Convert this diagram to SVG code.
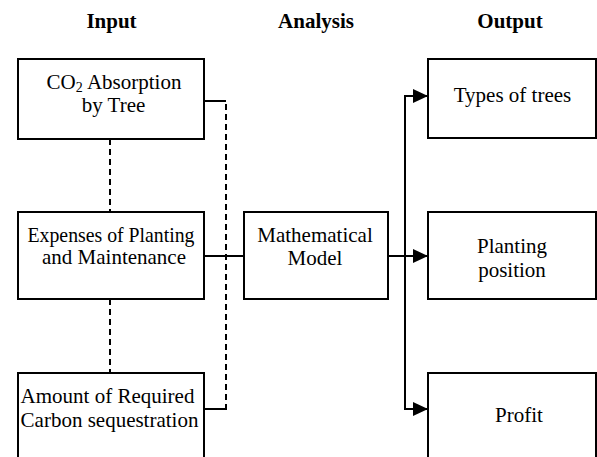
<svg xmlns="http://www.w3.org/2000/svg" width="597" height="457" viewBox="0 0 597 457">
<style>
.box{fill:#fff;stroke:#000;stroke-width:2}
.t{font-family:"Liberation Serif",serif;font-size:21px;text-anchor:middle;fill:#000}
.h{font-family:"Liberation Serif",serif;font-size:21px;font-weight:bold;text-anchor:middle;fill:#000}
.ln{fill:none;stroke:#000;stroke-width:2}
.d{fill:none;stroke:#000;stroke-width:2;stroke-dasharray:6,4}
</style>
<defs>
<marker id="arr" markerUnits="userSpaceOnUse" markerWidth="16" markerHeight="16" viewBox="0 0 16 16" refX="15" refY="8" orient="auto">
<path d="M0,1 L15,8 L0,15 Z" fill="#000"/>
</marker>
</defs>
<g id="headers">
<text class="h" font-family="Liberation Serif" x="111.5" y="28">Input</text>
<text class="h" font-family="Liberation Serif" x="316" y="28">Analysis</text>
<text class="h" font-family="Liberation Serif" x="510" y="28">Output</text>
</g>
<g id="connectors">
<line class="d" x1="110" y1="139" x2="110" y2="212"/>
<line class="d" x1="110" y1="299" x2="110" y2="373"/>
<polyline class="ln" points="204,101 226,101"/>
<line class="d" x1="226" y1="104" x2="226" y2="407"/>
<polyline class="ln" points="226,405 226,409 204,409"/>
<line class="ln" x1="204" y1="256" x2="244" y2="256"/>
<line class="ln" x1="388" y1="256" x2="428" y2="256" marker-end="url(#arr)"/>
<polyline class="ln" points="428,96 405,96 405,409 428,409"/>
<line class="ln" x1="405" y1="96" x2="428" y2="96" marker-end="url(#arr)"/>
<line class="ln" x1="405" y1="409" x2="428" y2="409" marker-end="url(#arr)"/>
</g>
<g id="co2">
<rect class="box" x="18" y="59" width="186" height="80"/>
<text class="t" font-family="Liberation Serif" x="114" y="89">CO<tspan font-size="14" dy="3">2</tspan><tspan dy="-3"> Absorption</tspan></text>
<text class="t" font-family="Liberation Serif" x="113.5" y="112">by Tree</text>
</g>
<g id="expenses">
<rect class="box" x="18" y="212" width="186" height="87"/>
<text class="t" font-family="Liberation Serif" x="111" y="242" textLength="167" lengthAdjust="spacingAndGlyphs">Expenses of Planting</text>
<text class="t" font-family="Liberation Serif" x="114" y="264">and Maintenance</text>
</g>
<g id="amount">
<rect class="box" x="18" y="373" width="186" height="100"/>
<text class="t" font-family="Liberation Serif" x="107.5" y="403">Amount of Required</text>
<text class="t" font-family="Liberation Serif" x="109.5" y="427">Carbon sequestration</text>
</g>
<g id="model">
<rect class="box" x="244" y="212" width="144" height="87"/>
<text class="t" font-family="Liberation Serif" x="315" y="242">Mathematical</text>
<text class="t" font-family="Liberation Serif" x="315" y="265">Model</text>
</g>
<g id="types">
<rect class="box" x="428" y="59" width="168" height="79"/>
<text class="t" font-family="Liberation Serif" x="512.5" y="102">Types of trees</text>
</g>
<g id="position">
<rect class="box" x="428" y="212" width="168" height="87"/>
<text class="t" font-family="Liberation Serif" x="512" y="253">Planting</text>
<text class="t" font-family="Liberation Serif" x="512" y="277">position</text>
</g>
<g id="profit">
<rect class="box" x="428" y="373" width="168" height="100"/>
<text class="t" font-family="Liberation Serif" x="519" y="422">Profit</text>
</g>
</svg>
